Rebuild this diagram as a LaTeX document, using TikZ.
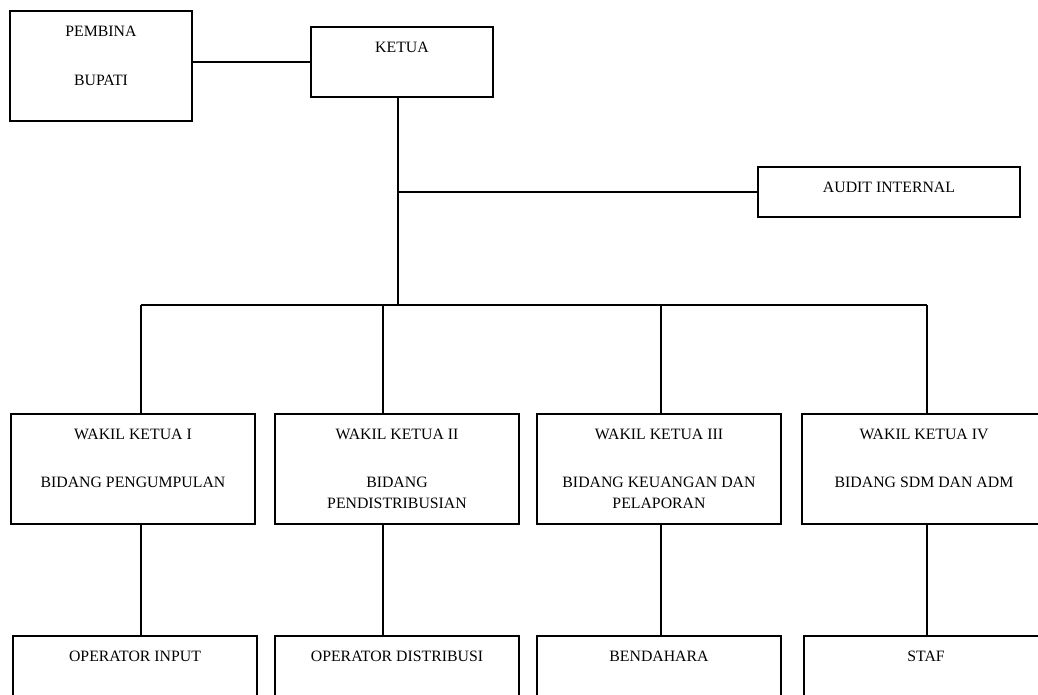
\documentclass[tikz,border=0pt]{standalone}
\usepackage{fontspec}
\setmainfont{Liberation Serif}
\begin{document}
\begin{tikzpicture}[x=1pt,y=-1pt,
  box/.style={draw,line width=1.8pt,rectangle,inner sep=0pt},
  lbl/.style={anchor=base,inner sep=0pt,font=\fontsize{15.8}{18}\selectfont,align=center},
  con/.style={line width=1.8pt}]
\useasboundingbox (0,0) rectangle (1038,694);
% top boxes
\node[box,minimum width=182pt,minimum height=110pt] (pembina) at (101,66) {};
\node[lbl] (tp1) at (101,36) {PEMBINA};
\node[lbl] (tp2) at (101,85) {BUPATI};
\node[box,minimum width=182pt,minimum height=70pt] (ketua) at (402,62) {};
\node[lbl] (tk) at (402,52) {KETUA};
\node[box,minimum width=262pt,minimum height=50pt] (audit) at (889,192) {};
\node[lbl] (ta) at (889,192) {AUDIT INTERNAL};
% wakil boxes
\foreach \n/\x in {w1/133,w2/397,w3/659,w4/924}
  \node[box,minimum width=244pt,minimum height=110pt] (\n) at (\x,469) {};
\node[lbl] (tw1a) at (133,439) {WAKIL KETUA I};
\node[lbl] (tw1b) at (133,487) {BIDANG PENGUMPULAN};
\node[lbl] (tw2a) at (397,439) {WAKIL KETUA II};
\node[lbl] (tw2b) at (397,487) {BIDANG};
\node[lbl] (tw2c) at (397,508) {PENDISTRIBUSIAN};
\node[lbl] (tw3a) at (659,439) {WAKIL KETUA III};
\node[lbl] (tw3b) at (659,487) {BIDANG KEUANGAN DAN};
\node[lbl] (tw3c) at (659,508) {PELAPORAN};
\node[lbl] (tw4a) at (924,439) {WAKIL KETUA IV};
\node[lbl] (tw4b) at (924,487) {BIDANG SDM DAN ADM};
% bottom boxes
\foreach \n/\x in {o1/135,o2/397,o3/659,o4/926}
  \node[box,minimum width=244pt,minimum height=110pt] (\n) at (\x,691) {};
\node[lbl] (to1) at (135,661) {OPERATOR INPUT};
\node[lbl] (to2) at (397,661) {OPERATOR DISTRIBUSI};
\node[lbl] (to3) at (659,661) {BENDAHARA};
\node[lbl] (to4) at (926,661) {STAF};
% connectors
\draw[con] (ketua.west) -- (ketua.west -| pembina.east);
\coordinate (kb) at (398,97);
\coordinate (bus) at (398,305);
\draw[con] (kb) -- (bus);
\draw[con] (audit.west) -- (audit.west -| kb);
\coordinate (b1) at (141,305);
\coordinate (b2) at (383,305);
\coordinate (b3) at (661,305);
\coordinate (b4) at (927,305);
\draw[con] (b1) -- (b4);
\foreach \i in {1,2,3,4}{
  \draw[con] (b\i) -- (b\i |- w\i.north);
  \draw[con] (b\i |- w\i.south) -- (b\i |- o\i.north);
}
\end{tikzpicture}
\end{document}
